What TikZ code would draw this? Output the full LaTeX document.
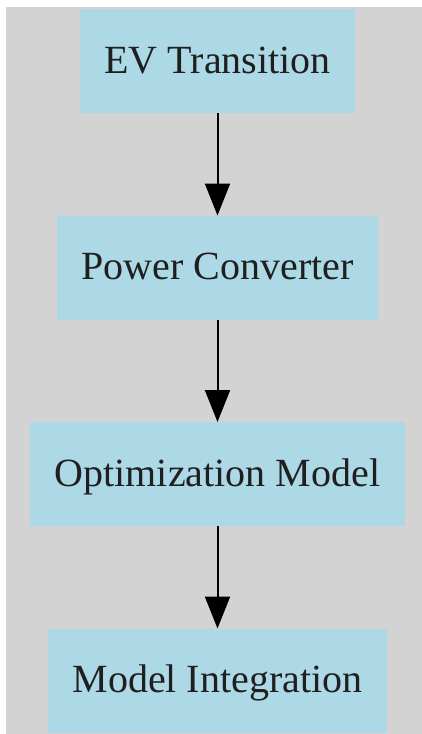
\documentclass[tikz,border=0pt]{standalone}
\usepackage{fontspec}
\setmainfont{Liberation Serif}
\usepackage{tikz}
\usetikzlibrary{arrows.meta,positioning,backgrounds}
\definecolor{boxblue}{HTML}{ADD8E6}
\definecolor{bggray}{HTML}{D3D3D3}

\begin{document}
\begin{tikzpicture}[
			node distance=51.25pt,
			stage/.style={fill=boxblue,minimum height=52pt,inner xsep=12.2pt,outer sep=0pt,text height=15pt,text depth=3pt,text=black!88,font=\fontsize{20}{24}\selectfont},
			arr/.style={-{Triangle[length=16pt,width=12.5pt]},line width=1pt,black}
			]
			\useasboundingbox (0,0) rectangle (211pt,-367pt);
			\node[stage] (ev) at (108.75pt,-30.5pt) {EV Transition};
			\node[stage] (pc) [below=of ev] {Power Converter};
			\node[stage] (om) [below=of pc] {Optimization Model};
			\node[stage] (mi) [below=of om] {Model Integration};
			\draw[arr] (ev) -- (pc);
			\draw[arr] (pc) -- (om);
			\draw[arr] (om) -- (mi);
			% gray canvas behind the chain
			\begin{scope}[on background layer]
				\fill[bggray] (3pt,-3.5pt) rectangle (211pt,-367pt);
			\end{scope}
		\end{tikzpicture}
\end{document}
